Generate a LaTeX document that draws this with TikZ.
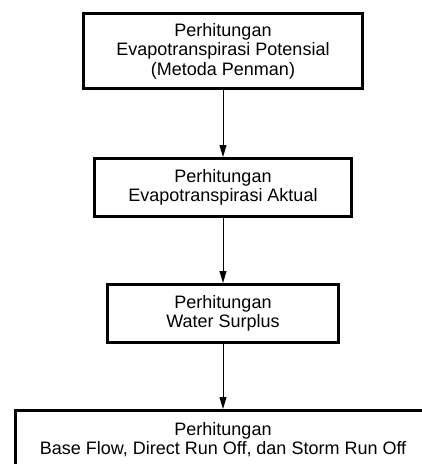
\documentclass[tikz,border=0pt]{standalone}
\usepackage{fontspec}
\setmainfont{Liberation Sans}
\usetikzlibrary{arrows.meta}
\tikzset{
  stepbox/.style={draw=black, line width=3pt, rectangle, inner sep=0pt, align=center,
    font=\fontsize{18}{19.5}\selectfont},
  flowarrow/.style={draw=black, line width=1pt, -{Triangle[length=12pt,width=7pt]}}
}
\begin{document}
\begin{tikzpicture}[x=1pt,y=-1pt]
\useasboundingbox (0,0) rectangle (422,464);
\clip (0,0) rectangle (422,464);
\node[stepbox, minimum width=279pt, minimum height=75pt] (b1) at (223,51)
  {Perhitungan\\Evapotranspirasi Potensial\\(Metoda Penman)};
\node[stepbox, minimum width=257pt, minimum height=58pt] (b2) at (223,187.5)
  {Perhitungan\\Evapotranspirasi Aktual};
\node[stepbox, minimum width=231pt, minimum height=58pt] (b3) at (223,313.5)
  {Perhitungan\\Water Surplus};
\node[stepbox, minimum width=415pt, minimum height=58pt] (b4) at (223,439.5)
  {Perhitungan\\Base Flow, Direct Run Off, dan Storm Run Off};
\draw[flowarrow] (b1.south) -- (b2.north);
\draw[flowarrow] (b2.south) -- (b3.north);
\draw[flowarrow] (b3.south) -- (b4.north);
\end{tikzpicture}
\end{document}
